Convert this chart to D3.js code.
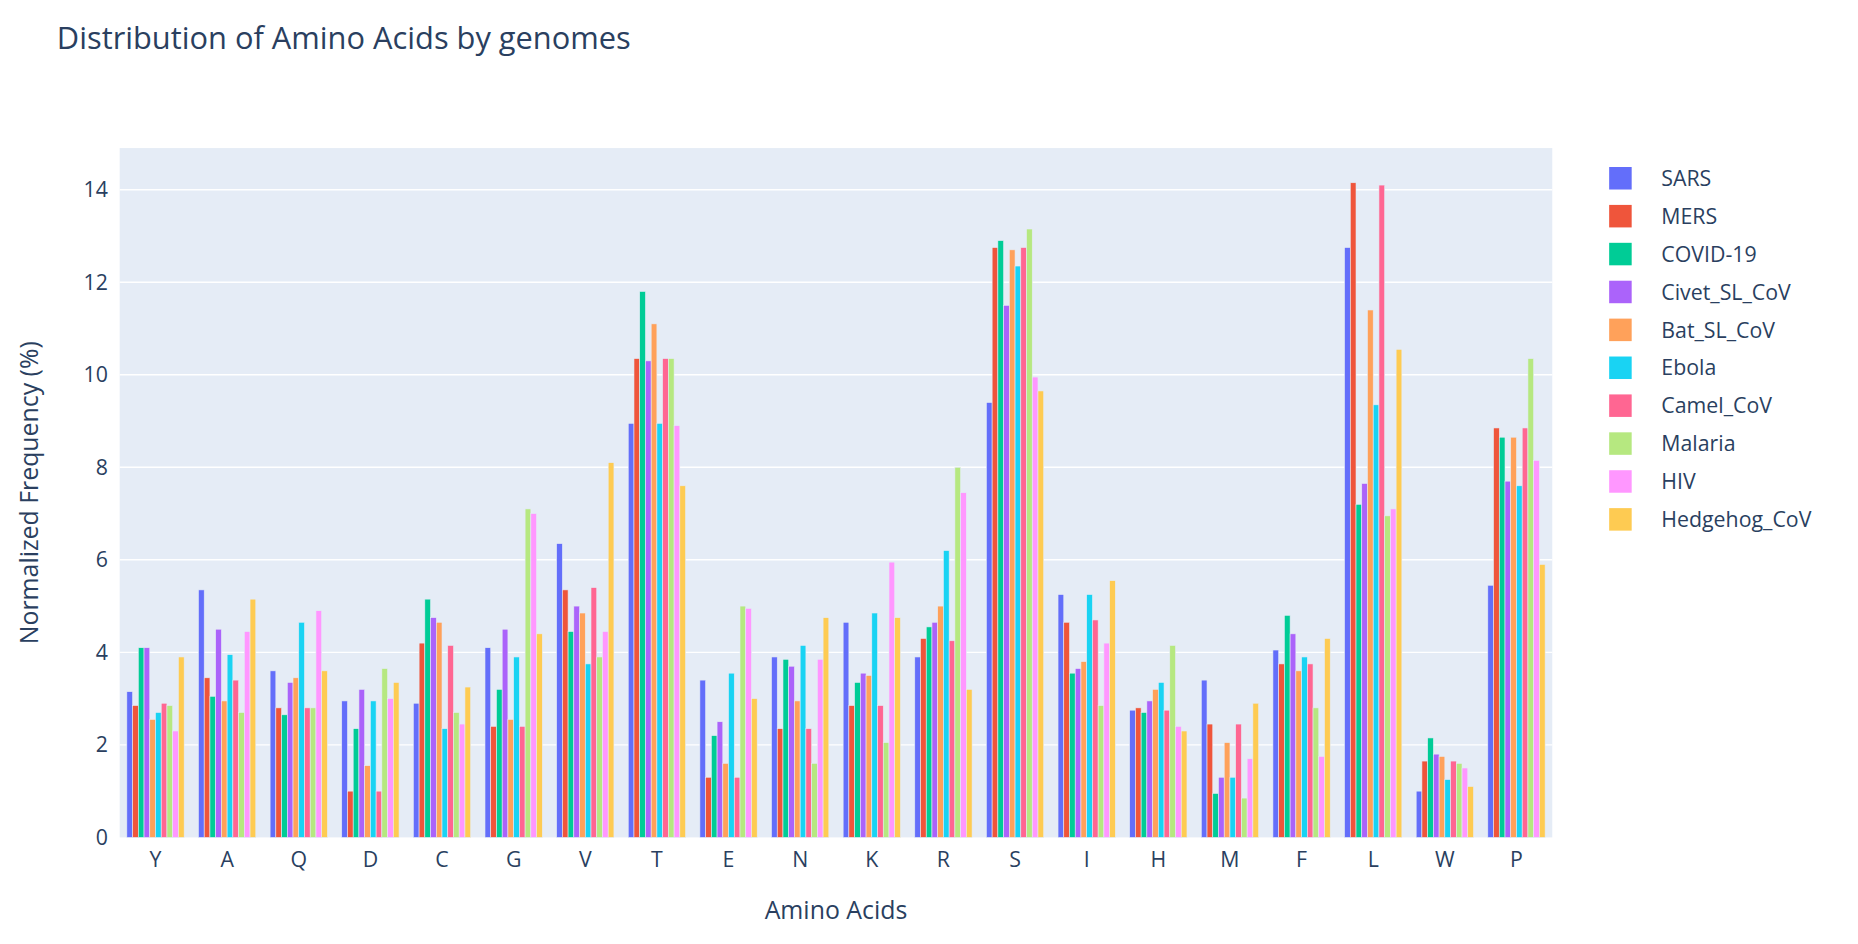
<!DOCTYPE html>
<html><head><meta charset="utf-8">
<script src="https://cdn.jsdelivr.net/npm/d3@7"></script>
<style>body{margin:0;background:#fff;font-family:"Open Sans",sans-serif;overflow:hidden}</style>
</head><body><svg id="c" width="1858" height="944" viewBox="0 0 1568 797" preserveAspectRatio="none"></svg>
<script>
const categories=["Y","A","Q","D","C","G","V","T","E","N","K","R","S","I","H","M","F","L","W","P"];
const seriesNames=["SARS","MERS","COVID-19","Civet_SL_CoV","Bat_SL_CoV","Ebola","Camel_CoV","Malaria","HIV","Hedgehog_CoV"];
const colors=["#636efa","#EF553B","#00cc96","#ab63fa","#FFA15A","#19d3f3","#FF6692","#B6E880","#FF97FF","#FECB52"];
// values[category][series]
const Y=[3.15,2.85,4.1,4.1,2.55,2.7,2.9,2.85,2.3,3.9];
const A=[5.35,3.45,3.05,4.5,2.95,3.95,3.4,2.7,4.45,5.15];
const Q=[3.6,2.8,2.65,3.35,3.45,4.65,2.8,2.8,4.9,3.6];
const D=[2.95,1.0,2.35,3.2,1.55,2.95,1.0,3.65,3.0,3.35];
const C=[2.9,4.2,5.15,4.75,4.65,2.35,4.15,2.7,2.45,3.25];
const G=[4.1,2.4,3.2,4.5,2.55,3.9,2.4,7.1,7.0,4.4];
const V=[6.35,5.35,4.45,5.0,4.85,3.75,5.4,3.9,4.45,8.1];
const T=[8.95,10.35,11.8,10.3,11.1,8.95,10.35,10.35,8.9,7.6];
const E=[3.4,1.3,2.2,2.5,1.6,3.55,1.3,5.0,4.95,3.0];
const N=[3.9,2.35,3.85,3.7,2.95,4.15,2.35,1.6,3.85,4.75];
const K=[4.65,2.85,3.35,3.55,3.5,4.85,2.85,2.05,5.95,4.75];
const R=[3.9,4.3,4.55,4.65,5.0,6.2,4.25,8.0,7.45,3.2];
const S=[9.4,12.75,12.9,11.5,12.7,12.35,12.75,13.15,9.95,9.65];
const I=[5.25,4.65,3.55,3.65,3.8,5.25,4.7,2.85,4.2,5.55];
const H=[2.75,2.8,2.7,2.95,3.2,3.35,2.75,4.15,2.4,2.3];
const M=[3.4,2.45,0.95,1.3,2.05,1.3,2.45,0.85,1.7,2.9];
const F=[4.05,3.75,4.8,4.4,3.6,3.9,3.75,2.8,1.75,4.3];
const L=[12.75,14.15,7.2,7.65,11.4,9.35,14.1,6.95,7.1,10.55];
const W=[1.0,1.65,2.15,1.8,1.75,1.25,1.65,1.6,1.5,1.1];
const P=[5.45,8.85,8.65,7.7,8.65,7.6,8.85,10.35,8.15,5.9];
const values=[Y,A,Q,D,C,G,V,T,E,N,K,R,S,I,H,M,F,L,W,P];
const yTicks=[0,2,4,6,8,10,12,14];

const svg=d3.select("#c");
const m={l:101,r:1310,t:125,b:707};
const x=d3.scaleBand().domain(categories).range([m.l,m.r]).paddingInner(0.2).paddingOuter(0.1);
const xs=d3.scaleBand().domain(seriesNames).range([0,x.bandwidth()]);
const y=d3.scaleLinear().domain([0,14.9]).range([m.b,m.t]);
const txt="#2a3f5f";
svg.append("rect").attr("x",m.l).attr("y",m.t).attr("width",m.r-m.l).attr("height",m.b-m.t).attr("fill","#E5ECF6");
svg.append("g").selectAll("line").data(yTicks.slice(1)).join("line")
 .attr("x1",m.l).attr("x2",m.r).attr("y1",d=>y(d)).attr("y2",d=>y(d)).attr("stroke","#fff").attr("stroke-width",1.2);
const g=svg.append("g");
categories.forEach((c,ci)=>{
  g.append("g").selectAll("rect").data(values[ci]).join("rect")
   .attr("x",(d,i)=>x(c)+xs(seriesNames[i])).attr("width",xs.bandwidth())
   .attr("y",d=>y(d)).attr("height",d=>y(0)-y(d))
   .attr("fill",(d,i)=>colors[i]).attr("stroke","#E5ECF6").attr("stroke-width",0.5);
});
const ya=svg.append("g").attr("transform",`translate(${m.l},0)`).call(d3.axisLeft(y).tickValues(yTicks).tickSize(0).tickPadding(10));
ya.select(".domain").remove();
ya.selectAll("text").attr("font-size",18).attr("fill",txt).attr("font-family","Open Sans");
const xa=svg.append("g").attr("transform",`translate(0,${m.b})`).call(d3.axisBottom(x).tickSize(0).tickPadding(12));
xa.select(".domain").remove();
xa.selectAll("text").attr("font-size",18).attr("fill",txt).attr("font-family","Open Sans");
svg.append("text").attr("x",48).attr("y",41).attr("font-size",26).attr("fill",txt).text("Distribution of Amino Acids by genomes");
svg.append("text").attr("x",(m.l+m.r)/2).attr("y",776).attr("text-anchor","middle").attr("font-size",21).attr("fill",txt).text("Amino Acids");
svg.append("text").attr("transform",`translate(32,${(m.t+m.b)/2}) rotate(-90)`).attr("text-anchor","middle").attr("font-size",21).attr("fill",txt).text("Normalized Frequency (%)");
const lg=svg.append("g").selectAll("g").data(seriesNames).join("g").attr("transform",(d,i)=>`translate(1358,${150+i*32})`);
lg.append("rect").attr("x",0).attr("y",-9).attr("width",19).attr("height",19).attr("fill",(d,i)=>colors[i]);
lg.append("text").attr("x",44).attr("y",7).attr("font-size",18).attr("fill",txt).text(d=>d);
</script></body></html>
